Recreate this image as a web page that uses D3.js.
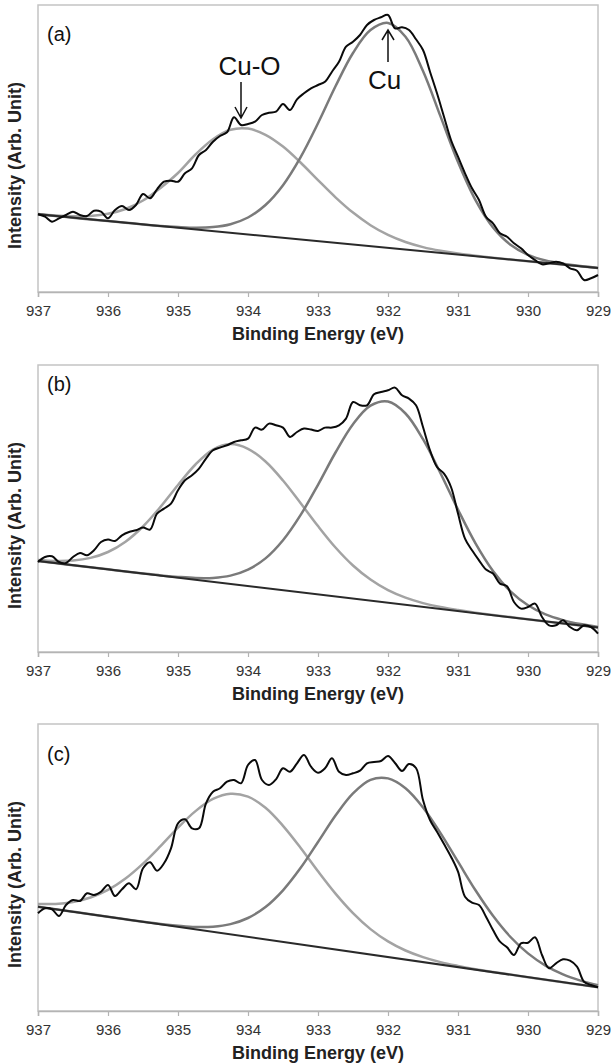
<!DOCTYPE html>
<html>
<head>
<meta charset="utf-8">
<script src="https://cdn.jsdelivr.net/npm/d3@7"></script>
<style>
body { margin: 0; background: #fff; }
text { font-family: "Liberation Sans", Arial, sans-serif; }
</style>
</head>
<body>
<div class="chart"></div>
<script>
// Cu 2p3/2 XPS spectra with Cu-O / Cu peak fits, three samples (a), (b), (c)

// binding energy of the measured points (eV), 0.1 eV steps
var specEnergy = [937.0, 936.9, 936.8, 936.7, 936.6, 936.5, 936.4, 936.3, 936.2, 936.1,
    936.0, 935.9, 935.8, 935.7, 935.6, 935.5, 935.4, 935.3, 935.2, 935.1,
    935.0, 934.9, 934.8, 934.7, 934.6, 934.5, 934.4, 934.3, 934.2, 934.1,
    934.0, 933.9, 933.8, 933.7, 933.6, 933.5, 933.4, 933.3, 933.2, 933.1,
    933.0, 932.9, 932.8, 932.7, 932.6, 932.5, 932.4, 932.3, 932.2, 932.1,
    932.0, 931.9, 931.8, 931.7, 931.6, 931.5, 931.4, 931.3, 931.2, 931.1,
    931.0, 930.9, 930.8, 930.7, 930.6, 930.5, 930.4, 930.3, 930.2, 930.1,
    930.0, 929.9, 929.8, 929.7, 929.6, 929.5, 929.4, 929.3, 929.2, 929.1, 929.0];

// binding energy of the fitted curve points (eV)
var fitEnergy = [937, 936.75, 936.5, 936.25, 936, 935.75, 935.5, 935.25, 935, 934.75, 934.5,
    934.25, 934, 933.75, 933.5, 933.25, 933, 932.75, 932.5, 932.25, 932, 931.75,
    931.5, 931.25, 931, 930.75, 930.5, 930.25, 930, 929.75, 929.5, 929.25, 929];

// linear background end points (eV)
var bgEnergy = [937, 929];

var xTicks = [937, 936, 935, 934, 933, 932, 931, 930, 929];
var panelLabels = ["(a)", "(b)", "(c)"];

// panel (a)
var specA = [77.7, 75.3, 70.3, 73.7, 77, 80.3, 77, 76, 81.3, 80.3,
    73.7, 82, 86, 82, 87, 98, 93.7, 102.7, 110.3, 111.3,
    110.3, 118.7, 123.7, 137, 142, 150.3, 156, 159.7, 174.7, 167,
    168, 170.3, 177, 179.3, 180.3, 188, 182, 192.7, 198.7, 203.7,
    207, 210.3, 220.3, 230.3, 245.3, 250.3, 257, 267, 272, 274.7,
    277, 263.7, 264.7, 262, 252.7, 242, 220.3, 198.7, 175.3, 152,
    135.3, 118.7, 103.7, 92, 75.3, 68.7, 58.7, 55.3, 48.7, 43.7,
    37, 32, 27.7, 28.7, 30.3, 28.7, 23.7, 21.3, 12, 13.7, 17];
var cuoA = [77.9, 76.5, 75.8, 76.0, 78.2, 83.0, 91.5, 104.1, 119, 137.5, 152.7,
    162.2, 163.4, 157.2, 145.4, 129.5, 111.9, 94.7, 79.4, 66.8, 57.1, 50.0,
    44.9, 41.2, 38.4, 36.2, 34.3, 32.5, 30.7, 29.0, 27.4, 25.7, 24.0];
var cuA = [77.7, 76.0, 74.3, 72.6, 71.0, 69.3, 67.6, 66.1, 65.0, 64.3, 64.9,
    67.8, 74.5, 87.0, 106.8, 134.6, 168.7, 205.7, 239.0, 261.9, 269.1, 255.3,
    221.0, 175.6, 129.9, 91.8, 64.5, 47.2, 37.1, 31.5, 28.3, 26.0, 24.1];
var bgA = [77.7, 24.0];

// panel (b)
var specB = [90, 95, 95.7, 90, 89, 95, 99, 96.7, 101.7, 110,
    112.4, 111, 116.7, 120, 121.7, 124.4, 122.4, 138.4, 143.4, 148.4,
    161.7, 171.7, 176.7, 183.4, 193.4, 201.7, 204.4, 206.7, 210, 211.7,
    213.4, 224.4, 222.4, 228.4, 226.7, 224.4, 215, 220, 223.4, 222.4,
    221, 224.4, 224.4, 226.7, 233.4, 250, 246.7, 246.7, 257.7, 260,
    261.7, 264.4, 256.7, 253.4, 246.7, 225, 201.7, 185, 178.4, 165,
    138.4, 113.4, 101.7, 91.7, 82.4, 78.4, 68.4, 65.7, 50, 43.4,
    45, 48.4, 35, 26.7, 26.7, 31.7, 25, 21.7, 26.7, 25, 18.4];
var cuoB = [91.9, 91.0, 91.4, 94.1, 100.0, 110.3, 125.5, 145.1, 167.0, 187.5, 202.4,
    207.9, 203.2, 190.5, 171.5, 149.0, 125.9, 104.5, 86.5, 72.4, 61.8, 54.3,
    48.9, 44.9, 41.9, 39.3, 37.0, 34.9, 32.7, 30.6, 28.6, 26.5, 24.4];
var cuB = [91.0, 88.9, 86.8, 84.8, 82.7, 80.6, 78.6, 76.6, 75.1, 74.0, 74.1,
    76.4, 82.4, 93.6, 111.7, 136.8, 167.2, 199.5, 227.8, 246.3, 250.4, 238.5,
    212.8, 178.8, 142.4, 108.7, 81.1, 60.7, 46.7, 37.6, 31.9, 27.9, 24.9];
var bgB = [91.0, 24.4];

// panel (c)
var specC = [97.7, 102.7, 101.7, 95, 106, 111, 110, 117.7, 116, 119.3,
    126, 115, 121.7, 127.7, 121.7, 142.7, 148.7, 140.3, 147.7, 162.7,
    187.7, 191.7, 182.7, 182.7, 207.7, 219.3, 222.7, 229.3, 231, 227.7,
    246, 251, 231, 226, 231.7, 242.7, 239.3, 247.7, 256, 244.3,
    238.3, 242.7, 252.7, 239.3, 236, 237.7, 240.3, 247.7, 249, 250,
    255, 248, 240, 247, 243, 211, 191, 179.3, 167, 154.3,
    139.3, 114.3, 108.3, 106, 94.3, 81, 69.3, 63.7, 56, 67.7,
    68.3, 73.7, 56, 42.7, 47.7, 51.7, 50.3, 44.3, 29.3, 26, 23.7];
var cuoC = [107.1, 107.1, 109.0, 113.5, 121.1, 132.5, 147.4, 164.9, 183.4, 199.9, 212.1,
    217.3, 214.3, 203.2, 185.2, 163.3, 139.7, 117.4, 97.9, 81.9, 69.6, 60.5,
    53.9, 48.9, 45.1, 41.8, 39.0, 36.4, 33.8, 31.3, 28.7, 26.2, 23.7];
var cuC = [104.3, 101.8, 99.3, 96.8, 94.2, 91.7, 89.3, 87.1, 85.3, 84.0, 84.3,
    86.9, 93.0, 104.0, 120.7, 142.9, 169.0, 195.5, 217.7, 231.2, 232.6, 222.8,
    203.6, 177.9, 149.3, 120.7, 95.2, 74.0, 57.6, 45.4, 36.6, 30.4, 25.7];
var bgC = [104.3, 23.7];

var specs = [specA, specB, specC];
var cuos = [cuoA, cuoB, cuoC];
var cus = [cuA, cuB, cuC];
var bgs = [bgA, bgB, bgC];

// layout
var svgWidth = 612;
var svgHeight = 1063;
var margin = { left: 38 };
var width = 560;
var height = 287;
var panelTop = [5, 365, 724];
var labelY = [41, 391, 761];

var svg = d3.select(".chart")
    .append("svg")
    .attr("width", svgWidth)
    .attr("height", svgHeight);

var xScale = d3.scaleLinear().domain([937, 929]).range([0, width]);
var yScale = d3.scaleLinear().domain([0, 287]).range([height, 0]);

var line = d3.line()
    .x(function(d) { return xScale(d[0]); })
    .y(function(d) { return yScale(d[1]); })
    .curve(d3.curveCatmullRom.alpha(0.5));

function pairs(xs, ys) {
    return xs.map(function(x, i) { return [x, ys[i]]; });
}

panelLabels.forEach(function(label, p) {
    var chart = svg.append("g")
        .attr("transform", "translate(" + margin.left + "," + panelTop[p] + ")");

    // plot frame
    chart.append("rect")
        .attr("width", width)
        .attr("height", height)
        .attr("fill", "none")
        .attr("stroke", "#c4c4c4")
        .attr("stroke-width", 1.5);

    // x axis
    var axis = chart.append("g")
        .attr("transform", "translate(0," + height + ")")
        .call(d3.axisBottom(xScale).tickValues(xTicks).tickSize(5).tickPadding(8)
            .tickFormat(d3.format("d")));
    axis.select(".domain").attr("stroke", "#b4b4b4").attr("stroke-width", 1.5);
    axis.selectAll(".tick line").attr("stroke", "#b4b4b4").attr("stroke-width", 1.2);
    axis.selectAll(".tick text")
        .attr("fill", "#333")
        .style("font-size", "15px")
        .style("font-family", "'Liberation Sans', Arial, sans-serif");

    // fitted components
    chart.append("path")
        .datum(pairs(fitEnergy, cuos[p]))
        .attr("d", line)
        .attr("fill", "none")
        .attr("stroke", "#a3a3a3")
        .attr("stroke-width", 2.5);

    chart.append("path")
        .datum(pairs(fitEnergy, cus[p]))
        .attr("d", line)
        .attr("fill", "none")
        .attr("stroke", "#7a7a7a")
        .attr("stroke-width", 2.5);

    // background line
    chart.append("path")
        .datum(pairs(bgEnergy, bgs[p]))
        .attr("d", line)
        .attr("fill", "none")
        .attr("stroke", "#2a2a2a")
        .attr("stroke-width", 2);

    // measured spectrum
    chart.append("path")
        .datum(pairs(specEnergy, specs[p]))
        .attr("d", line)
        .attr("fill", "none")
        .attr("stroke", "#0a0a0a")
        .attr("stroke-width", 2)
        .attr("stroke-linejoin", "round");

    // panel label
    svg.append("text")
        .attr("x", 47)
        .attr("y", labelY[p])
        .style("font-size", "20px")
        .attr("fill", "#111")
        .text(label);

    // axis titles
    chart.append("text")
        .attr("x", width / 2)
        .attr("y", height + 48)
        .attr("text-anchor", "middle")
        .style("font-size", "18px")
        .style("font-weight", "bold")
        .attr("fill", "#222")
        .text("Binding Energy (eV)");

    svg.append("text")
        .attr("transform", "translate(21," + (panelTop[p] + height / 2 + 17) + ") rotate(-90)")
        .attr("text-anchor", "middle")
        .style("font-size", "18px")
        .style("font-weight", "bold")
        .attr("fill", "#222")
        .text("Intensity (Arb. Unit)");
});

// peak annotations on panel (a)
var note = svg.append("g")
    .attr("transform", "translate(" + margin.left + "," + panelTop[0] + ")");

note.append("text")
    .attr("x", xScale(934.05) + 5)
    .attr("y", 70)
    .attr("text-anchor", "middle")
    .style("font-size", "26px")
    .attr("fill", "#111")
    .text("Cu-O");

note.append("path")
    .attr("d", "M" + xScale(934.1) + ",77 V113 M" + (xScale(934.1) - 6) + ",102 L" + xScale(934.1) + ",113 L" + (xScale(934.1) + 6) + ",102")
    .attr("fill", "none")
    .attr("stroke", "#111")
    .attr("stroke-width", 1.5);

note.append("text")
    .attr("x", xScale(932.05))
    .attr("y", 84)
    .attr("text-anchor", "middle")
    .style("font-size", "26px")
    .attr("fill", "#111")
    .text("Cu");

note.append("path")
    .attr("d", "M" + xScale(932.0) + ",57 V25 M" + (xScale(932.0) - 6) + ",35 L" + xScale(932.0) + ",25 L" + (xScale(932.0) + 6) + ",35")
    .attr("fill", "none")
    .attr("stroke", "#111")
    .attr("stroke-width", 1.5);
</script>
</body>
</html>
